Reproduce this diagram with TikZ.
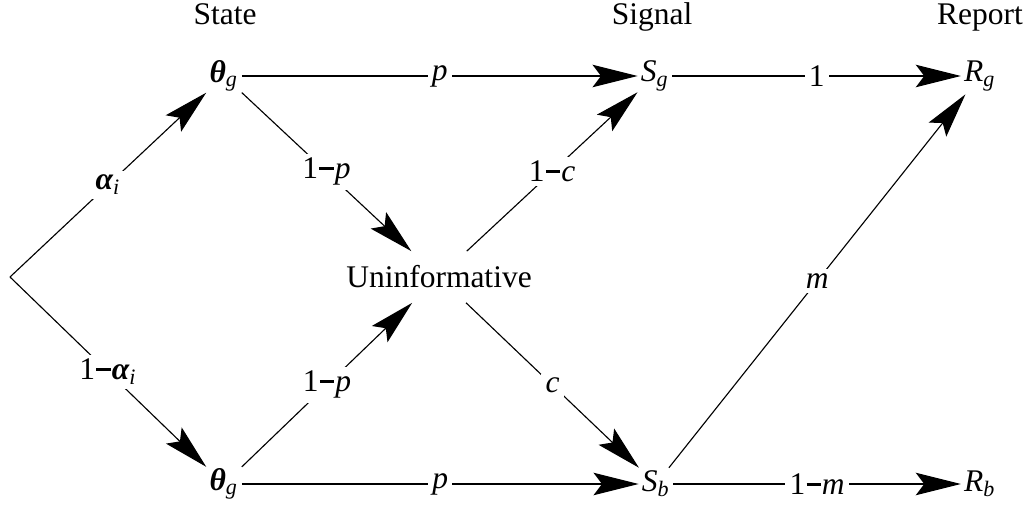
\documentclass[tikz,border=0pt]{standalone}
\usepackage{fontspec}
\setmainfont{Liberation Serif}
\usetikzlibrary{arrows.meta}
\tikzset{pr/.style={line width=0.4pt, -{Stealth[length=16pt,width=8pt,inset=3pt]}},
  lbl/.style={fill=white, inner sep=1.5pt},
  nd/.style={inner sep=1pt},
  hd/.style={anchor=base}}
\newcommand{\withsub}[2]{#1\textsubscript{\itshape #2}}
\newcommand{\bgr}[1]{{\bfseries\itshape #1}}
\newcommand{\mn}{\kern0.04em\rule[0.27em]{0.45em}{0.1em}\kern0.04em}

\begin{document}
\begin{tikzpicture}[x=0.0125cm, y=-0.0125cm, font=\fontsize{11.2}{13}\selectfont]
  \useasboundingbox (0,0) rectangle (1034,508);
  % column heads
  \node[hd] (hstate) at (225,24) {State};
  \node[hd] (hsig) at (652,24) {Signal};
  \node[hd] (hrep) at (980,24) {Report};
  % states
  \coordinate (root) at (10,277);
  \node[nd] (thg) at (224,76) {\withsub{\bgr{θ}}{g}};
  \node[nd] (thb) at (224,484) {\withsub{\bgr{θ}}{g}};
  \node[nd, inner ysep=5pt] (unin) at (439,277) {Uninformative};
  % signals and reports
  \node[nd] (sg) at (655,76) {\withsub{\textit{S}}{g}};
  \node[nd] (sb) at (656,484) {\withsub{\textit{S}}{b}};
  \node[nd] (rg) at (980,76) {\withsub{\textit{R}}{g}};
  \node[nd] (rb) at (980,484) {\withsub{\textit{R}}{b}};
  % prior
  \draw[pr] (root) -- node[lbl] {\withsub{\bgr{α}}{i}} (thg);
  \draw[pr] (root) -- node[lbl] {1\mn\withsub{\bgr{α}}{i}} (thb);
  % information
  \draw[pr] (thg) -- node[lbl] {\textit{p}} (sg);
  \draw[pr] (thb) -- node[lbl] {\textit{p}} (sb);
  \draw[pr] (thg) -- node[lbl] {1\mn\textit{p}} (unin);
  \draw[pr] (thb) -- node[lbl] {1\mn\textit{p}} (unin);
  \draw[pr] (unin) -- node[lbl] {1\mn\textit{c}} (sg);
  \draw[pr] (unin) -- node[lbl] {\textit{c}} (sb);
  % reports
  \draw[pr] (sg) -- node[lbl] {1} (rg);
  \draw[pr] (sb) -- node[lbl] {1\mn\textit{m}} (rb);
  \draw[pr] (sb) -- node[lbl] {\textit{m}} (rg);
\end{tikzpicture}
\end{document}
